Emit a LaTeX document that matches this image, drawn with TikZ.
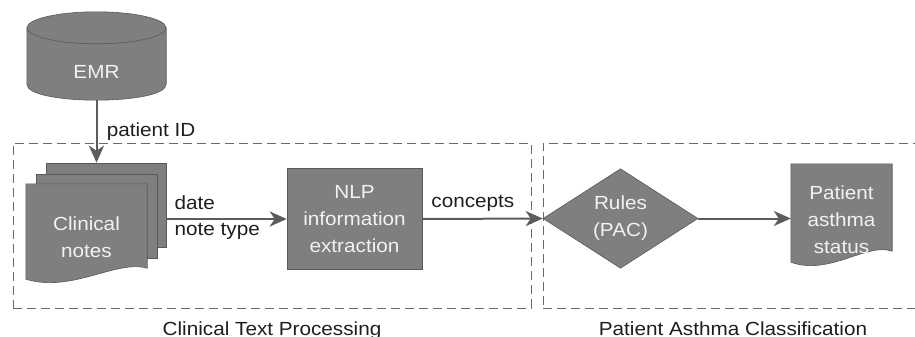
\documentclass[tikz,border=0pt]{standalone}
\usepackage{fontspec}
\setmainfont{Liberation Sans}[FakeStretch=1.09]
\usetikzlibrary{shapes.geometric,arrows.meta,calc,positioning,backgrounds}

\definecolor{boxgray}{RGB}{126,127,129}
\definecolor{edgegray}{RGB}{88,89,91}
\definecolor{arrowgray}{RGB}{92,92,94}
\definecolor{dashgray}{RGB}{105,105,107}
\definecolor{labelblack}{RGB}{30,30,30}
\definecolor{shapetext}{RGB}{242,242,242}

% document shape: wavy bottom, #2 = extra height above the node
\newcommand{\docoutline}[2]{%
  \path[shapebox] ($(#1.south west)+(0,-4)$) -- ($(#1.north west)+(0,-#2)$) -- ($(#1.north east)+(0,-#2)$)
    -- ($(#1.south east)+(0,-15)$)
    .. controls ($(#1.south east)!0.25!(#1.south west)+(0,-24)$)
    and ($(#1.south east)!0.62!(#1.south west)+(0,10)$)
    .. ($(#1.south west)+(0,-4)$) -- cycle;}

\begin{document}
\begin{tikzpicture}[x=1pt, y=-1pt, font=\fontsize{19}{27}\selectfont,
    shapebox/.style={fill=boxgray, draw=edgegray, line width=0.6pt},
    docnode/.style={rectangle, align=center, text=shapetext, inner sep=0pt},
    proc/.style={shapebox, rectangle, minimum width=135pt, minimum height=101pt, align=center, text=shapetext, inner sep=0pt},
    pagebox/.style={shapebox, rectangle, minimum width=121pt, minimum height=84pt},
    decision/.style={shapebox, diamond, minimum width=155pt, minimum height=91pt, inner sep=0pt, align=center, text=shapetext},
    flow/.style={draw=arrowgray, line width=2pt, -{Stealth[length=17pt,width=15pt,inset=5pt]}},
    group/.style={draw=dashgray, line width=0.9pt, dash pattern=on 9pt off 5pt, rectangle},
    lbl/.style={text=labelblack}]
  \useasboundingbox (0,0) rectangle (915,337);

  % dashed groups
  \node[group, minimum width=518pt, minimum height=165pt] (textproc) at (272,225.5) {};
  \node[group, minimum width=380pt, minimum height=165pt] (classify) at (733,225.5) {};
  \node[lbl, below=10pt of textproc.south] (textproclbl) {Clinical Text Processing};
  \node[lbl, below=10pt of classify.south] (classifylbl) {Patient Asthma Classification};

  % steps
  \node[docnode, minimum width=139pt, minimum height=56pt] (emr) at (96.5,72) {EMR};
  \node[docnode, minimum width=121pt, minimum height=92pt] (notes) at (86.5,237) {Clinical\\notes};
  \node[proc] (nlp) at (354.5,219) {NLP\\information\\extraction};
  \node[decision] (rules) at (620.5,218.5) {Rules\\(PAC)};
  \node[docnode, minimum width=101pt, minimum height=92pt] (status) at (841.5,220) {Patient\\asthma\\status};

  \begin{scope}[on background layer]
    % cylinder
    \path[shapebox] ($(emr.north west)+(0,-16)$) -- ($(emr.south west)+(0,-16)$)
      .. controls ($(emr.south west)+(0,5.3)$) and ($(emr.south east)+(0,5.3)$) .. ($(emr.south east)+(0,-16)$)
      -- ($(emr.north east)+(0,-16)$) -- cycle;
    \path[shapebox] ($(emr.north)+(0,-16)$) ellipse [x radius=69.5pt, y radius=16pt];
    % stacked notes
    \node[pagebox, minimum width=120pt] (notesC) at ($(notes.center)+(19.5,-32)$) {};
    \node[pagebox] (notesB) at ($(notes.center)+(10,-21)$) {};
    \docoutline{notes}{7}
    \docoutline{status}{10}
  \end{scope}

  % connectors
  \draw[flow] (emr.south) -- node[lbl, right=6pt] {patient ID} (emr.south |- notesC.north);
  \draw[flow] (notesC.east |- nlp.west) --
    node[lbl, pos=0, anchor=south west, xshift=4pt, yshift=5pt] {date}
    node[lbl, pos=0, anchor=north west, xshift=4pt] {note type} (nlp.west);
  \draw[flow] (nlp.east) -- node[lbl, above=3pt, pos=0.42] {concepts} (rules.west);
  \draw[flow] (rules.east) -- (rules.east -| status.west);
\end{tikzpicture}
\end{document}
